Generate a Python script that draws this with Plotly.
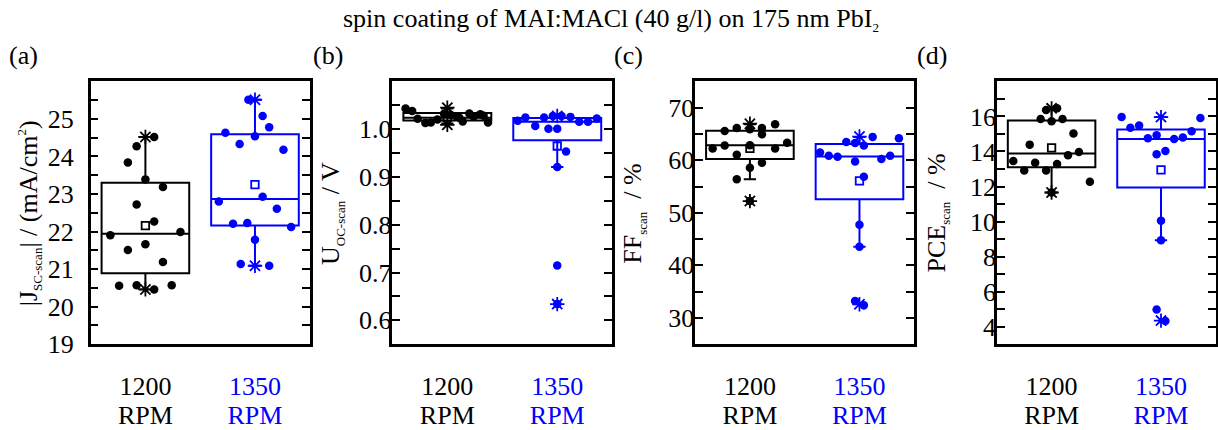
import plotly.graph_objects as go
from plotly.subplots import make_subplots

BLACK = '#000000'
BLUE = '#0000ff'
FONT = 'Liberation Serif'

categories = ['1200 RPM', '1350 RPM']
cat_pos = [1, 2]
x_line1 = ['1200', '1350']
x_line2 = ['RPM', 'RPM']

# ---------------- (a) |Jsc| ----------------
a_1200 = [24.52, 24.27, 23.84, 23.39, 23.19, 22.72, 22.27, 21.90, 21.99, 21.51, 21.66, 21.19, 20.56, 20.57, 20.46, 20.57]
a_1200_jit = [0.08, -0.08, -0.16, 0.0, 0.16, -0.08, 0.08, -0.32, 0.32, -0.16, 0.0, 0.16, -0.24, -0.08, 0.08, 0.24]
a_1350 = [25.51, 25.08, 24.78, 24.63, 24.54, 24.33, 24.18, 22.93, 22.80, 22.61, 22.21, 22.23, 22.12, 21.78, 21.14, 21.09]
a_1350_jit = [-0.06, 0.07, 0.13, -0.27, 0.0, -0.14, 0.26, 0.07, -0.33, 0.20, -0.20, -0.07, 0.33, 0.0, -0.13, 0.13]
a_q1 = [20.89, 22.16]
a_med = [21.94, 22.87]
a_q3 = [23.30, 24.59]
a_lo = [20.46, 21.09]
a_hi = [24.52, 25.51]
a_mean = [22.16, 23.25]
a_pmin = [20.46, 21.09]
a_pmax = [24.52, 25.51]

# ---------------- (b) Uoc ----------------
b_1200 = [1.043, 1.038, 1.022, 1.013, 1.014, 1.020, 1.032, 1.030, 1.027, 1.016, 1.033, 1.026, 1.031, 1.028, 1.014, 1.024]
b_1200_jit = [-0.38, -0.32, -0.27, -0.20, -0.15, -0.09, -0.03, 0.03, 0.08, 0.14, 0.20, 0.24, 0.30, 0.33, 0.37, 0.11]
b_1350 = [1.0176, 1.0243, 1.0068, 1.0243, 1.0007, 1.0277, 1.0007, 1.0277, 1.0257, 0.9534, 1.0155, 1.0155, 1.0223, 0.921, 0.7148, 0.634]
b_1350_jit = [-0.36, -0.29, -0.20, -0.12, -0.08, -0.04, 0.0, 0.04, 0.12, 0.08, 0.20, 0.28, 0.36, 0.0, 0.0, 0.0]
b_q1 = [1.018, 0.977]
b_med = [1.024, 1.0155]
b_q3 = [1.034, 1.0236]
b_lo = [1.012, 0.921]
b_hi = [1.043, 1.0277]
b_mean = [1.025, 0.9648]
b_pmin = [1.009, 0.634]
b_pmax = [1.045, 1.0277]

# ---------------- (c) FF ----------------
c_1200 = [62.24, 65.54, 62.79, 66.15, 61.02, 56.38, 65.91, 62.85, 58.58, 66.15, 64.93, 59.50, 66.82, 62.24, 63.34, 52.23]
c_1200_jit = [-0.34, -0.23, -0.23, -0.12, -0.12, -0.12, 0.0, 0.0, 0.0, 0.11, 0.11, 0.11, 0.23, 0.23, 0.34, 0.0]
c_1350 = [61.45, 60.84, 60.66, 63.47, 63.28, 59.74, 62.79, 56.87, 64.44, 60.23, 60.84, 64.20, 47.71, 43.56, 33.24, 32.44]
c_1350_jit = [-0.36, -0.28, -0.20, -0.12, -0.04, -0.04, 0.04, 0.04, 0.12, 0.20, 0.28, 0.36, 0.0, 0.0, -0.04, 0.04]
c_q1 = [60.23, 52.59]
c_med = [62.85, 60.72]
c_q3 = [65.60, 63.10]
c_lo = [56.38, 43.56]
c_hi = [66.82, 64.44]
c_mean = [62.24, 56.08]
c_pmin = [52.23, 32.60]
c_pmax = [66.95, 64.50]

# ---------------- (d) PCE ----------------
d_1200 = [13.45, 12.92, 14.39, 13.36, 15.85, 12.92, 16.37, 15.72, 16.46, 13.29, 15.85, 13.79, 15.02, 13.97, 12.27, 11.66]
d_1200_jit = [-0.35, -0.25, -0.20, -0.15, -0.10, -0.05, -0.05, 0.0, 0.05, 0.05, 0.10, 0.15, 0.20, 0.25, 0.35, 0.0]
d_1350 = [15.96, 15.35, 15.48, 14.75, 14.93, 13.84, 14.03, 14.71, 14.80, 15.15, 15.91, 10.04, 8.93, 4.98, 4.32]
d_1350_jit = [-0.36, -0.28, -0.20, -0.12, -0.04, -0.04, 0.04, 0.12, 0.20, 0.28, 0.36, 0.0, 0.0, -0.04, 0.04]
d_q1 = [13.10, 11.94]
d_med = [13.88, 14.71]
d_q3 = [15.76, 15.26]
d_lo = [11.66, 8.93]
d_hi = [16.46, 15.96]
d_mean = [14.21, 12.95]
d_pmin = [11.66, 4.35]
d_pmax = [16.46, 15.96]

# ---------------- tick labels ----------------
a_tickvals = [19, 19.5, 20, 20.5, 21, 21.5, 22, 22.5, 23, 23.5, 24, 24.5, 25, 25.5]
a_ticktext = ['19', '', '20', '', '21', '', '22', '', '23', '', '24', '', '25', '']
b_tickvals = [0.6, 0.65, 0.7, 0.75, 0.8, 0.85, 0.9, 0.95, 1.0, 1.05]
b_ticktext = ['0.6', '', '0.7', '', '0.8', '', '0.9', '', '1.0', '']
c_tickvals = [30, 35, 40, 45, 50, 55, 60, 65, 70]
c_ticktext = ['30', '', '40', '', '50', '', '60', '', '70']
d_tickvals = [4, 5, 6, 7, 8, 9, 10, 11, 12, 13, 14, 15, 16, 17]
d_ticktext = ['4', '', '6', '', '8', '', '10', '', '12', '', '14', '', '16', '']

SUB = '<span style="font-size:13px">{}</span>'
title_text = 'spin coating of MAI:MACl (40 g/l) on 175 nm PbI<sub>' + SUB.format('2') + '</sub>'
panel_letters = ['(a)', '(b)', '(c)', '(d)']
y_titles = [
    '|J<sub>' + SUB.format('SC-scan') + '</sub>| / (mA/cm<sup>' + SUB.format('2') + '</sup>)',
    'U<sub>' + SUB.format('OC-scan') + '</sub> / V',
    'FF<sub>' + SUB.format('scan') + '</sub>  / %',
    'PCE<sub>' + SUB.format('scan') + '</sub>  / %',
]

panels = [
    dict(g=[(a_1200, a_1200_jit), (a_1350, a_1350_jit)], q1=a_q1, med=a_med, q3=a_q3, lo=a_lo, hi=a_hi,
         mean=a_mean, pmin=a_pmin, pmax=a_pmax, rng=[19, 26], tv=a_tickvals, tt=a_ticktext),
    dict(g=[(b_1200, b_1200_jit), (b_1350, b_1350_jit)], q1=b_q1, med=b_med, q3=b_q3, lo=b_lo, hi=b_hi,
         mean=b_mean, pmin=b_pmin, pmax=b_pmax, rng=[0.55, 1.10], tv=b_tickvals, tt=b_ticktext),
    dict(g=[(c_1200, c_1200_jit), (c_1350, c_1350_jit)], q1=c_q1, med=c_med, q3=c_q3, lo=c_lo, hi=c_hi,
         mean=c_mean, pmin=c_pmin, pmax=c_pmax, rng=[25, 75], tv=c_tickvals, tt=c_ticktext),
    dict(g=[(d_1200, d_1200_jit), (d_1350, d_1350_jit)], q1=d_q1, med=d_med, q3=d_q3, lo=d_lo, hi=d_hi,
         mean=d_mean, pmin=d_pmin, pmax=d_pmax, rng=[3, 18], tv=d_tickvals, tt=d_ticktext),
]

colors = [BLACK, BLUE]
W, H = 1218, 430
x_domains = [(90.7, 310.0), (392.7, 612.7), (695.7, 915.0), (997.7, 1216.7)]
y_domain = [1 - 356.7 / H, 1 - 84.3 / H]
letter_x = [24, 328, 629, 933]
ytitle_x = [29, 332, 634, 938]
ylabel_standoff = [9, -7, -7, -7]


def colored(labels):
    return [labels[0], '<span style="color:%s">%s</span>' % (BLUE, labels[1])]


fig = make_subplots(rows=1, cols=4)

for i, p in enumerate(panels):
    col = i + 1
    for j in range(2):
        c = colors[j]
        fig.add_trace(go.Box(
            x=[cat_pos[j]], q1=[p['q1'][j]], median=[p['med'][j]], q3=[p['q3'][j]],
            lowerfence=[p['lo'][j]], upperfence=[p['hi'][j]],
            width=0.8, whiskerwidth=0.14, boxpoints=False,
            line=dict(color=c, width=2), fillcolor='rgba(0,0,0,0)',
            name=categories[j], showlegend=False, hoverinfo='skip'), row=1, col=col)
    for j in range(2):
        c = colors[j]
        vals, jit = p['g'][j]
        fig.add_trace(go.Scatter(
            x=[cat_pos[j] + d for d in jit], y=vals, mode='markers',
            marker=dict(color=c, size=8.5, line=dict(width=0)),
            showlegend=False, hoverinfo='skip'), row=1, col=col)
        fig.add_trace(go.Scatter(
            x=[cat_pos[j]], y=[p['mean'][j]], mode='markers',
            marker=dict(symbol='square-open', color=c, size=7.5, line=dict(width=1.8, color=c)),
            showlegend=False, hoverinfo='skip'), row=1, col=col)
        fig.add_trace(go.Scatter(
            x=[cat_pos[j], cat_pos[j]], y=[p['pmin'][j], p['pmax'][j]], mode='markers',
            marker=dict(symbol='asterisk-open', color=c, size=12, line=dict(width=1.8, color=c)),
            showlegend=False, hoverinfo='skip'), row=1, col=col)

    xa = 'xaxis' if i == 0 else f'xaxis{col}'
    ya = 'yaxis' if i == 0 else f'yaxis{col}'
    xref = 'x' if i == 0 else f'x{col}'
    yref = 'y' if i == 0 else f'y{col}'
    fig.layout[xa].update(
        domain=[x_domains[i][0] / W, x_domains[i][1] / W], range=[0.5, 2.5],
        tickmode='array', tickvals=cat_pos, ticktext=colored(x_line1), ticks='',
        showline=True, linewidth=2.5, linecolor=BLACK, mirror=True,
        showgrid=False, zeroline=False, ticklabelstandoff=17,
        tickfont=dict(family=FONT, size=26, color=BLACK))
    # second line of the category labels, drawn by an overlaying x axis
    ov = f'x{col + 4}'
    fig.layout[f'xaxis{col + 4}'] = dict(
        overlaying=xref, anchor=yref, side='bottom', range=[0.5, 2.5],
        tickmode='array', tickvals=cat_pos, ticktext=colored(x_line2), ticks='',
        showline=False, showgrid=False, zeroline=False, ticklabelstandoff=53,
        tickfont=dict(family=FONT, size=26, color=BLACK))
    fig.add_trace(go.Scatter(x=cat_pos, y=p['med'], xaxis=ov, yaxis=yref, mode='markers',
                             marker=dict(opacity=0, size=1), showlegend=False, hoverinfo='skip'))
    fig.layout[ya].update(
        domain=y_domain, range=p['rng'],
        tickmode='array', tickvals=p['tv'], ticktext=p['tt'],
        ticks='inside', ticklen=8, tickwidth=2, tickcolor=BLACK,
        showline=True, linewidth=2.5, linecolor=BLACK, mirror='ticks',
        showgrid=False, zeroline=False, ticklabelstandoff=ylabel_standoff[i],
        tickfont=dict(family=FONT, size=26, color=BLACK))

    fig.add_annotation(text=panel_letters[i], xref='paper', yref='paper',
                       x=letter_x[i] / W, y=1 - 58 / H, xanchor='center', yanchor='middle',
                       showarrow=False, font=dict(family=FONT, size=26, color=BLACK))
    fig.add_annotation(text=y_titles[i], xref='paper', yref='paper', textangle=-90,
                       x=ytitle_x[i] / W, y=1 - 221 / H, xanchor='center', yanchor='middle',
                       showarrow=False, font=dict(family=FONT, size=26, color=BLACK))

fig.add_annotation(text=title_text, xref='paper', yref='paper', x=612 / W, y=1 - 20 / H,
                   xanchor='center', yanchor='middle', showarrow=False,
                   font=dict(family=FONT, size=26, color=BLACK))

fig.update_layout(width=W, height=H, margin=dict(l=0, r=0, t=0, b=0),
                  paper_bgcolor='white', plot_bgcolor='white', showlegend=False,
                  font=dict(family=FONT, size=26, color=BLACK))

fig.write_html('out.html')
